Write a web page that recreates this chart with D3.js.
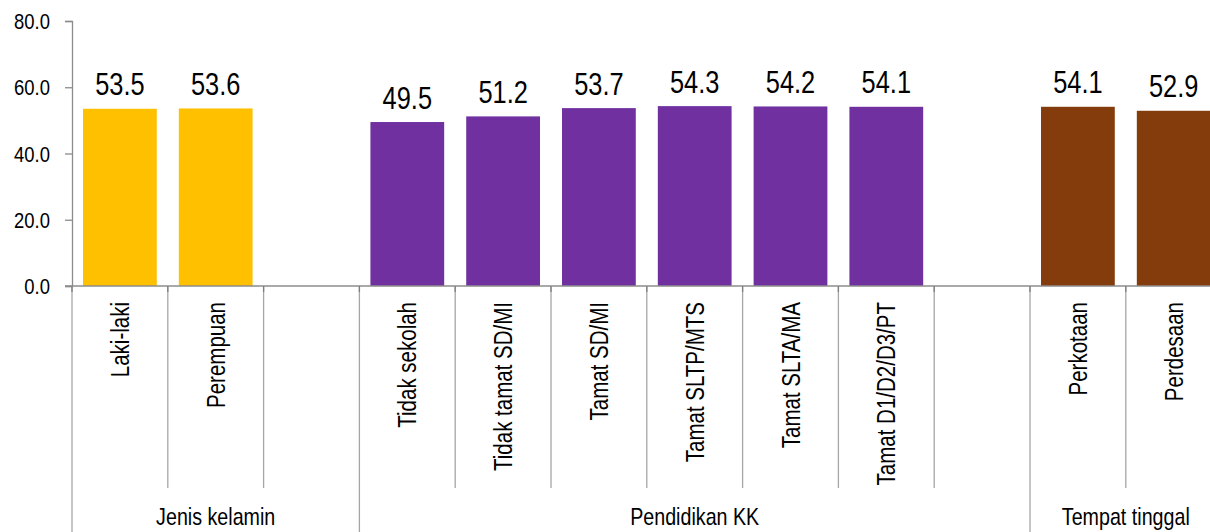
<!DOCTYPE html>
<html>
<head>
<meta charset="utf-8">
<script src="https://cdn.jsdelivr.net/npm/d3@7"></script>
<style>
  html, body { margin: 0; padding: 0; background: #fff; }
  svg { display: block; }
  text { font-family: "Liberation Sans", Arial, sans-serif; fill: #000; }
</style>
</head>
<body>
<svg id="chart" width="1210" height="532"></svg>
<script>
const categories = ["Laki-laki", "Perempuan", "", "Tidak sekolah", "Tidak tamat SD/MI", "Tamat SD/MI",
  "Tamat SLTP/MTS", "Tamat SLTA/MA", "Tamat D1/D2/D3/PT", "", "Perkotaan", "Perdesaan"];
const values = [53.5, 53.6, null, 49.5, 51.2, 53.7, 54.3, 54.2, 54.1, null, 54.1, 52.9];
const groupOf = [0, 0, 0, 1, 1, 1, 1, 1, 1, 1, 2, 2];
const groups = ["Jenis kelamin", "Pendidikan KK", "Tempat tinggal"];
const groupColors = ["#FFC000", "#7030A0", "#843C0C"];
const yTicks = [0, 20, 40, 60, 80];

const NARROW = 0.82; // emulate a condensed (Arial Narrow-like) face
const svg = d3.select("#chart");
const axisColor = "#8c8c8c";
const x0 = 72, slotW = 95.8;
const keys = categories.map((c, i) => i);
const x = d3.scaleBand().domain(keys).range([x0, x0 + slotW * keys.length]).paddingInner(0.23).paddingOuter(0.115);
const y = d3.scaleLinear().domain([0, 80]).range([286, 21]);

// bars
svg.append("g").selectAll("rect")
  .data(keys.filter(i => values[i] != null))
  .join("rect")
  .attr("x", i => x(i))
  .attr("width", x.bandwidth())
  .attr("y", i => y(values[i]))
  .attr("height", i => y(0) - y(values[i]))
  .attr("fill", i => groupColors[groupOf[i]]);

// value labels
svg.append("g").selectAll("text")
  .data(keys.filter(i => values[i] != null))
  .join("text")
  .attr("transform", i => `translate(${x(i) + x.bandwidth() / 2},${y(values[i]) - 13.5}) scale(${NARROW},1)`)
  .attr("text-anchor", "middle")
  .attr("font-size", 31)
  .text(i => values[i].toFixed(1));

// y axis
const yAxis = d3.axisLeft(y).tickValues(yTicks).tickFormat("").tickSize(7);
const gy = svg.append("g").attr("transform", `translate(${x0},0)`).call(yAxis);
gy.select(".domain").attr("stroke", axisColor).attr("stroke-width", 1.3);
gy.selectAll(".tick line").attr("stroke", axisColor).attr("stroke-width", 1.3);
gy.selectAll(".tick text").remove();
svg.append("g").selectAll("text")
  .data(yTicks)
  .join("text")
  .attr("transform", d => `translate(50,${y(d)}) scale(${NARROW},1)`)
  .attr("text-anchor", "end")
  .attr("dy", "0.36em")
  .attr("font-size", 22.5)
  .text(d => d3.format(".1f")(d));

// x axis line
svg.append("line").attr("x1", x0 - 7).attr("x2", 1210).attr("y1", y(0)).attr("y2", y(0))
  .attr("stroke", axisColor).attr("stroke-width", 1.3);

// boundaries
const boundaries = d3.range(keys.length + 1).map(i => ({ i, pos: x0 + slotW * i }));
const groupStarts = new Set([0, 3, 10, 12]);
svg.append("g").selectAll("line")
  .data(boundaries)
  .join("line")
  .attr("x1", d => d.pos).attr("x2", d => d.pos)
  .attr("y1", y(0))
  .attr("y2", d => groupStarts.has(d.i) ? 532 : 488)
  .attr("stroke", "#a6a6a6").attr("stroke-width", 1.3);
svg.append("g").selectAll("line")
  .data(boundaries)
  .join("line")
  .attr("x1", d => d.pos).attr("x2", d => d.pos)
  .attr("y1", y(0)).attr("y2", y(0) + 6)
  .attr("stroke", "#7f7f7f").attr("stroke-width", 1.3);

// category labels (rotated)
svg.append("g").selectAll("text")
  .data(keys.filter(i => categories[i] !== ""))
  .join("text")
  .attr("transform", i => `translate(${x(i) + x.bandwidth() / 2},302) rotate(-90) scale(${NARROW},1)`)
  .attr("text-anchor", "end")
  .attr("dy", "0.36em")
  .attr("font-size", 25)
  .text(i => categories[i]);

// group labels
const groupRanges = groups.map((g, gi) => {
  const idx = keys.filter(i => groupOf[i] === gi);
  return { g, start: x0 + slotW * d3.min(idx), end: x0 + slotW * (d3.max(idx) + 1) };
});
svg.append("g").selectAll("text")
  .data(groupRanges)
  .join("text")
  .attr("transform", d => `translate(${(d.start + d.end) / 2},525) scale(${NARROW},1)`)
  .attr("text-anchor", "middle")
  .attr("font-size", 24)
  .text(d => d.g);
</script>
</body>
</html>
